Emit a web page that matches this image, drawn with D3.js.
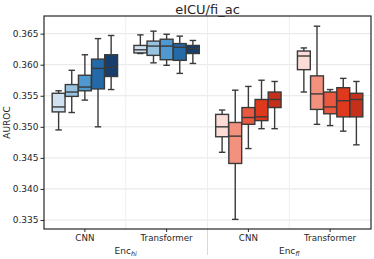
<!DOCTYPE html>
<html>
<head>
<meta charset="utf-8">
<script src="https://cdn.jsdelivr.net/npm/d3@7"></script>
<style>
  body { margin: 0; background: #fff; }
  text { font-family: "DejaVu Sans", sans-serif; }
</style>
</head>
<body>
<div class="chart"></div>
<script>
// categories
const groupKeys = ["hi-CNN", "hi-Transformer", "fl-CNN", "fl-Transformer"];
const groupLabels = ["CNN", "Transformer", "CNN", "Transformer"];
const encLabels = [["Enc", "hi"], ["Enc", "fl"]];
const hues = [0, 1, 2, 3, 4];
const yTicks = [0.335, 0.340, 0.345, 0.350, 0.355, 0.360, 0.365];

// box stats, one row per group, one value per hue
const whiskLow = [
  [0.3495, 0.3523, 0.3543, 0.3500, 0.3560],
  [0.3618, 0.3603, 0.3599, 0.3586, 0.3602],
  [0.3459, 0.3351, 0.3465, 0.3497, 0.3497],
  [0.3556, 0.3504, 0.3502, 0.3493, 0.3471]
];
const q1 = [
  [0.3524, 0.3549, 0.3558, 0.3561, 0.3581],
  [0.3619, 0.3615, 0.3608, 0.3607, 0.3618],
  [0.3484, 0.3441, 0.3504, 0.3510, 0.3531],
  [0.3592, 0.3528, 0.3521, 0.3516, 0.3516]
];
const median = [
  [0.3532, 0.3556, 0.3564, 0.3594, 0.3596],
  [0.3624, 0.3630, 0.3630, 0.3628, 0.3626],
  [0.3500, 0.3485, 0.3515, 0.3516, 0.3544],
  [0.3614, 0.3553, 0.3532, 0.3542, 0.3544]
];
const q3 = [
  [0.3554, 0.3568, 0.3583, 0.3609, 0.3616],
  [0.3631, 0.3638, 0.3641, 0.3634, 0.3631],
  [0.3520, 0.3507, 0.3531, 0.3544, 0.3556],
  [0.3622, 0.3582, 0.3556, 0.3563, 0.3554]
];
const whiskHigh = [
  [0.3558, 0.3591, 0.3616, 0.3642, 0.3647],
  [0.3648, 0.3654, 0.3649, 0.3646, 0.3639],
  [0.3527, 0.3559, 0.3565, 0.3575, 0.3573],
  [0.3627, 0.3662, 0.3560, 0.3578, 0.3573]
];
const blues = ["#d0e2f2", "#97c3e1", "#4f98d0", "#2469a8", "#173e6c"];
const reds = ["#fcdcd6", "#f3917f", "#ea5840", "#df391d", "#c4301a"];

const width = 374, height = 259;
const margin = { top: 16, right: 3, bottom: 30, left: 44 };

const svg = d3.select(".chart")
  .append("svg")
  .attr("width", width)
  .attr("height", height);

const x = d3.scaleBand()
  .domain(groupKeys)
  .range([margin.left, width - margin.right])
  .padding(0);

const xHue = d3.scaleBand()
  .domain(hues)
  .range([x.bandwidth() * 0.1, x.bandwidth() * 0.9])
  .paddingInner(0.02);

const y = d3.scaleLinear()
  .domain([0.33355, 0.36784])
  .range([height - margin.bottom, margin.top]);

// grid
svg.append("g")
  .selectAll("line")
  .data(yTicks)
  .enter()
  .append("line")
  .attr("x1", margin.left)
  .attr("x2", width - margin.right)
  .attr("y1", d => y(d))
  .attr("y2", d => y(d))
  .attr("stroke", "#e6e6e6")
  .attr("stroke-width", 1);

svg.append("g")
  .selectAll("line")
  .data(groupKeys.slice(1))
  .enter()
  .append("line")
  .attr("x1", d => x(d))
  .attr("x2", d => x(d))
  .attr("y1", margin.top)
  .attr("y2", height - margin.bottom)
  .attr("stroke", "#eeeeee")
  .attr("stroke-width", 1);

// separator between encoders, below the axis
svg.append("line")
  .attr("x1", x(groupKeys[2]))
  .attr("x2", x(groupKeys[2]))
  .attr("y1", height - margin.bottom)
  .attr("y2", height - 4)
  .attr("stroke", "#d9d9d9")
  .attr("stroke-width", 1);

// boxes
const edge = "#3a3a3a";
groupKeys.forEach((g, gi) => {
  const pal = gi < 2 ? blues : reds;
  const grp = svg.append("g").attr("transform", `translate(${x(g)},0)`);
  hues.forEach(h => {
    const x0 = xHue(h), w = xHue.bandwidth(), cx = x0 + w / 2;
    const capW = w * 0.5;
    // whiskers
    grp.append("line")
      .attr("x1", cx).attr("x2", cx)
      .attr("y1", y(q3[gi][h])).attr("y2", y(whiskHigh[gi][h]))
      .attr("stroke", edge).attr("stroke-width", 1.4);
    grp.append("line")
      .attr("x1", cx).attr("x2", cx)
      .attr("y1", y(q1[gi][h])).attr("y2", y(whiskLow[gi][h]))
      .attr("stroke", edge).attr("stroke-width", 1.4);
    [whiskHigh[gi][h], whiskLow[gi][h]].forEach(v => {
      grp.append("line")
        .attr("x1", cx - capW / 2).attr("x2", cx + capW / 2)
        .attr("y1", y(v)).attr("y2", y(v))
        .attr("stroke", edge).attr("stroke-width", 1.4);
    });
    grp.append("rect")
      .attr("x", x0)
      .attr("width", w)
      .attr("y", y(q3[gi][h]))
      .attr("height", y(q1[gi][h]) - y(q3[gi][h]))
      .attr("fill", pal[h])
      .attr("stroke", edge)
      .attr("stroke-width", 1.4);
    grp.append("line")
      .attr("x1", x0).attr("x2", x0 + w)
      .attr("y1", y(median[gi][h])).attr("y2", y(median[gi][h]))
      .attr("stroke", edge).attr("stroke-width", 1.4);
  });
});

// frame
svg.append("rect")
  .attr("x", margin.left)
  .attr("y", margin.top)
  .attr("width", width - margin.left - margin.right)
  .attr("height", height - margin.top - margin.bottom)
  .attr("fill", "none")
  .attr("stroke", "#262626")
  .attr("stroke-width", 1.2);

// y axis
const yAxis = svg.append("g")
  .attr("transform", `translate(${margin.left},0)`)
  .call(d3.axisLeft(y).tickValues(yTicks).tickFormat(d3.format(".3f")).tickSize(3.5).tickPadding(2));
yAxis.select(".domain").remove();
yAxis.selectAll("line").attr("stroke", "#262626");
yAxis.selectAll("text").attr("font-size", 9).attr("fill", "#262626")
  .style("font-family", "DejaVu Sans");

// x axis
const xAxis = svg.append("g")
  .attr("transform", `translate(0,${height - margin.bottom})`)
  .call(d3.axisBottom(x).tickFormat((d, i) => groupLabels[i]).tickSize(3).tickPadding(2.5));
xAxis.select(".domain").remove();
xAxis.selectAll("line").attr("stroke", "#262626");
xAxis.selectAll("text").attr("font-size", 8.7).attr("fill", "#262626")
  .style("font-family", "DejaVu Sans");

// encoder labels
encLabels.forEach((e, i) => {
  const t = svg.append("text")
    .attr("x", x(groupKeys[i * 2 + 1]))
    .attr("y", height - 5.5)
    .attr("text-anchor", "middle")
    .attr("font-size", 9)
    .attr("fill", "#262626");
  t.append("tspan").text(e[0]);
  t.append("tspan")
    .attr("dy", 2)
    .attr("font-size", 6.5)
    .attr("font-style", "italic")
    .text(e[1]);
});

// y label
svg.append("text")
  .attr("transform", `translate(10,${(margin.top + height - margin.bottom) / 2}) rotate(-90)`)
  .attr("text-anchor", "middle")
  .attr("font-size", 9)
  .attr("fill", "#262626")
  .text("AUROC");

// title
svg.append("text")
  .attr("x", (margin.left + width - margin.right) / 2)
  .attr("y", 14)
  .attr("text-anchor", "middle")
  .attr("font-size", 13)
  .attr("fill", "#262626")
  .text("eICU/fi_ac");
</script>
</body>
</html>
